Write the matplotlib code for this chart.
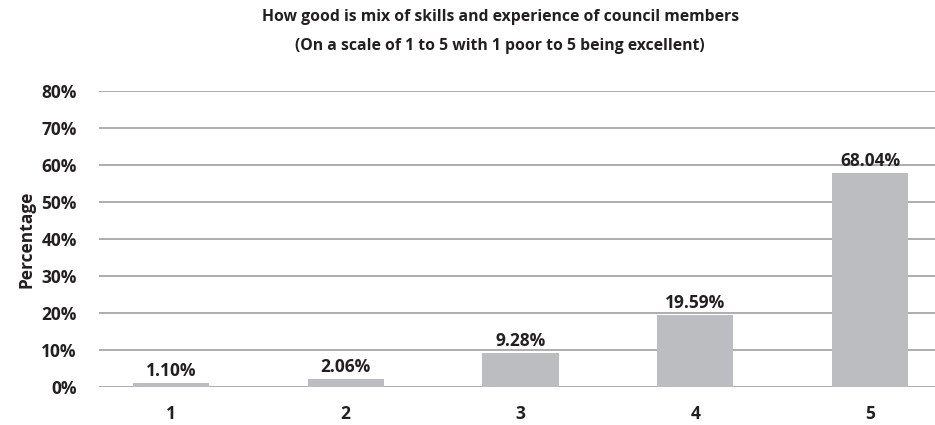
import numpy as np
import matplotlib.pyplot as plt

# scale points and bar heights as drawn in the picture
categories = ['1', '2', '3', '4', '5']
heights = [1.10, 2.06, 9.28, 19.59, 57.8]
bar_labels = ['1.10%', '2.06%', '9.28%', '19.59%', '68.04%']
yticks = [0, 10, 20, 30, 40, 50, 60, 70, 80]

plt.rcParams['font.family'] = ['Open Sans', 'DejaVu Sans']
txt = '#231f20'

fig = plt.figure(figsize=(9.35, 4.25), dpi=100)
ax = fig.add_axes([99 / 935, 38 / 425, 1 - 99 / 935, 296 / 425])

x = np.arange(len(categories))
ax.bar(x, heights, width=0.435, color='#bcbdc0', zorder=3)
for xi, h, lab in zip(x, heights, bar_labels):
    ax.text(xi, h + 0.8, lab, ha='center', va='bottom', fontsize=12.5,
            fontweight='bold', color=txt, zorder=4)

ax.set_xlim(-0.41, 4.37)
ax.set_ylim(0, 80)
ax.set_yticks(yticks)
ax.set_yticklabels([f'{t}%' for t in yticks])
ax.set_xticks(x)
ax.set_xticklabels(categories)
ax.grid(axis='y', color='#a0a0a0', linewidth=1.2, zorder=0)
ax.tick_params(length=0, labelsize=12.5, labelcolor=txt)
ax.tick_params(axis='y', pad=16)
ax.tick_params(axis='x', pad=13)
for lab in ax.get_xticklabels() + ax.get_yticklabels():
    lab.set_fontweight('bold')
for s in ax.spines.values():
    s.set_visible(False)

ax.set_ylabel('Percentage', fontsize=12.5, fontweight='bold', color=txt, labelpad=4)
fig.text(0.535, 0.96, 'How good is mix of skills and experience of council members',
         ha='center', va='center', fontsize=11.3, fontweight='bold', color=txt)
fig.text(0.535, 0.892, '(On a scale of 1 to 5 with 1 poor to 5 being excellent)',
         ha='center', va='center', fontsize=11.3, fontweight='bold', color=txt)

fig.savefig('out.png', dpi=100)
